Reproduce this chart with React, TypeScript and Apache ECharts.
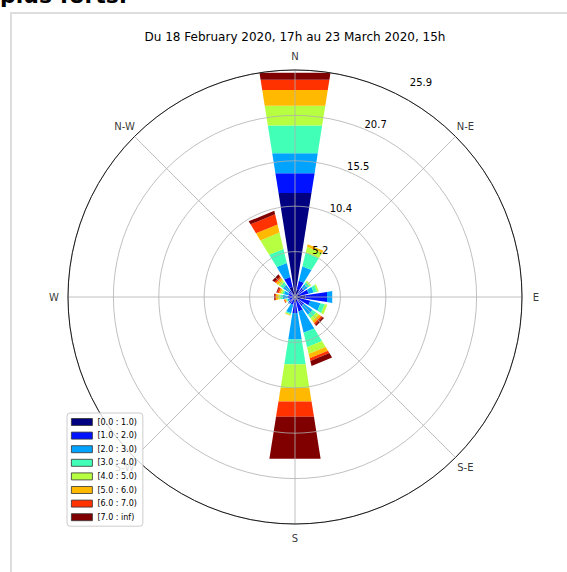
import React, { useEffect, useRef } from "react";
import * as echarts from "echarts";

const FONT = '"DejaVu Sans", "Liberation Sans", sans-serif';

const HEADING = "plus forts.";
const TITLE = "Du 18 February 2020, 17h au 23 March 2020, 15h";
const COMPASS_LABELS = ["N", "N-E", "E", "S-E", "S", "S-W", "W", "N-W"];

// 16 wind sectors, clockwise from north
const SECTORS = ["N", "NNE", "NE", "ENE", "E", "ESE", "SE", "SSE", "S", "SSW", "SW", "WSW", "W", "WNW", "NW", "NNW"];

// Speed classes and their jet colours
const SPEED_BINS = ["[0.0 : 1.0)", "[1.0 : 2.0)", "[2.0 : 3.0)", "[3.0 : 4.0)", "[4.0 : 5.0)", "[5.0 : 6.0)", "[6.0 : 7.0)", "[7.0 : inf)"];
const BIN_COLORS = ["#000080", "#0012ff", "#00a4ff", "#41ffb6", "#b6ff41", "#ffb900", "#ff3200", "#800000"];

// Frequency (%) of each speed class, per sector (same order as SECTORS)
const BIN_0_1 = [12.0, 0.9, 0.5, 0.6, 1.2, 0.6, 0.4, 0.5, 0.6, 0.3, 0.4, 0.3, 0.3, 0.3, 0.4, 1.2];
const BIN_1_2 = [2.3, 1.0, 0.8, 1.0, 2.5, 1.2, 0.9, 1.2, 1.25, 0.6, 0.5, 0.4, 0.5, 0.5, 0.5, 1.15];
const BIN_2_3 = [2.3, 1.7, 0.5, 0.6, 0.6, 1.2, 1.2, 2.5, 3.05, 1.0, 0.1, 0.2, 0.6, 0.5, 0.8, 1.65];
const BIN_3_4 = [3.2, 1.6, 0.3, 0.4, 0.0, 0.5, 0.5, 1.7, 2.86, 0.15, 0.0, 0.1, 0.3, 0.2, 0.4, 1.64];
const BIN_4_5 = [2.3, 0.7, 0.2, 0.2, 0.0, 0.3, 0.4, 0.8, 2.74, 0.1, 0.0, 0.1, 0.2, 0.2, 0.3, 1.93];
const BIN_5_6 = [1.8, 0.3, 0.0, 0.0, 0.0, 0.0, 0.3, 0.5, 1.56, 0.05, 0.0, 0.1, 0.3, 0.2, 0.3, 0.95];
const BIN_6_7 = [1.2, 0.0, 0.0, 0.0, 0.0, 0.0, 0.2, 0.3, 1.78, 0.0, 0.0, 0.1, 0.1, 0.2, 0.2, 1.2];
const BIN_7_INF = [0.8, 0.0, 0.0, 0.0, 0.0, 0.0, 0.2, 0.6, 4.84, 0.0, 0.0, 0.0, 0.1, 0.1, 0.3, 0.4];

// Radial scale: outer circle and five rings
const RADIUS_MAX = 25.9;
const RING_COUNT = 5;

const BINS = [BIN_0_1, BIN_1_2, BIN_2_3, BIN_3_4, BIN_4_5, BIN_5_6, BIN_6_7, BIN_7_INF];

const CENTER = [295, 297];
const PLOT_RADIUS = 227;
const COMPASS_RADIUS = 241;

function buildOption() {
  const step = 360 / SECTORS.length;
  const half = (step * 0.8) / 2;
  const base = SECTORS.map(() => 0);

  const series: any[] = BINS.map((vals, b) => {
    const data = vals.map((v, i) => {
      const r0 = base[i];
      base[i] = r0 + v;
      return [base[i], i * step, r0];
    });
    return {
      type: "custom",
      name: SPEED_BINS[b],
      coordinateSystem: "polar",
      polarIndex: 0,
      z: 2,
      itemStyle: { color: BIN_COLORS[b] },
      encode: { radius: 0, angle: 1 },
      data,
      renderItem: (_params: any, api: any) => {
        const r1 = api.value(0);
        const a = api.value(1);
        const r0 = api.value(2);
        if (!(r1 - r0 > 0)) return null;
        const points = [
          api.coord([r0, a - half]),
          api.coord([r0, a + half]),
          api.coord([r1, a + half]),
          api.coord([r1, a - half]),
        ];
        return {
          type: "polygon",
          shape: { points },
          style: { fill: BIN_COLORS[b], stroke: null },
        };
      },
    };
  });

  // compass point names, centred on their directions on an outer ring
  series.push({
    type: "scatter",
    coordinateSystem: "polar",
    polarIndex: 2,
    silent: true,
    z: 10,
    symbolSize: 8,
    itemStyle: { color: "rgba(255,255,255,0)" },
    data: COMPASS_LABELS.map((name, i) => ({ name, value: [RADIUS_MAX, i * 45] })),
    label: {
      show: true,
      position: "inside",
      formatter: "{b}",
      fontSize: 10,
      color: "#000",
      fontFamily: FONT,
    },
  });

  const ringStep = RADIUS_MAX / RING_COUNT;

  return {
    animation: false,
    backgroundColor: "transparent",
    textStyle: { fontFamily: FONT },
    title: {
      text: TITLE,
      left: 295,
      top: 31,
      textAlign: "center",
      padding: 0,
      textStyle: { fontSize: 12, fontWeight: "normal", color: "#000", fontFamily: FONT },
    },
    legend: {
      orient: "vertical",
      left: 67,
      top: 413,
      data: SPEED_BINS,
      icon: "rect",
      itemWidth: 21,
      itemHeight: 7,
      itemGap: 3.6,
      padding: [4, 6, 4, 4],
      backgroundColor: "rgba(255,255,255,0.8)",
      borderColor: "#cccccc",
      borderWidth: 1,
      borderRadius: 3,
      selectedMode: false,
      z: 20,
      itemStyle: { borderColor: "#333", borderWidth: 0.8 },
      textStyle: { fontSize: 8, color: "#000", fontFamily: FONT, lineHeight: 10 },
    },
    polar: [
      { center: CENTER, radius: PLOT_RADIUS },
      { center: CENTER, radius: PLOT_RADIUS },
      { center: CENTER, radius: COMPASS_RADIUS },
    ],
    angleAxis: [
      {
        polarIndex: 0,
        type: "value",
        min: 0,
        max: 360,
        interval: 45,
        startAngle: 90,
        clockwise: true,
        z: 10,
        axisLine: { show: true, lineStyle: { color: "#1a1a1a", width: 1 } },
        axisTick: { show: false },
        axisLabel: { show: false },
        splitLine: { show: true, lineStyle: { color: "#b0b0b0", width: 0.8 } },
      },
      {
        polarIndex: 1,
        type: "value",
        min: 0,
        max: 360,
        startAngle: 67.5,
        show: false,
      },
      {
        polarIndex: 2,
        type: "value",
        min: 0,
        max: 360,
        startAngle: 90,
        clockwise: true,
        show: false,
      },
    ],
    radiusAxis: [
      {
        polarIndex: 0,
        type: "value",
        min: 0,
        max: RADIUS_MAX,
        interval: ringStep,
        z: 10,
        axisLine: { show: false },
        axisTick: { show: false },
        axisLabel: { show: false },
        splitLine: { show: true, lineStyle: { color: "#b0b0b0", width: 0.8 } },
      },
      {
        polarIndex: 1,
        type: "value",
        min: 0,
        max: RADIUS_MAX,
        interval: ringStep,
        z: 10,
        axisLine: { show: false },
        axisTick: { show: false },
        splitLine: { show: false },
        axisLabel: {
          show: true,
          showMinLabel: false,
          showMaxLabel: true,
          margin: 0,
          align: "left",
          verticalAlign: "bottom",
          fontSize: 10,
          color: "#000",
          fontFamily: FONT,
          formatter: (v: number) => {
            const txt = v.toFixed(1);
            return Math.abs(v - RADIUS_MAX) < 1e-6 ? `{far|${txt}}` : txt;
          },
          rich: {
            far: { padding: [0, 0, 0, 28], fontSize: 10, color: "#000", fontFamily: FONT },
          },
        },
      },
      {
        polarIndex: 2,
        type: "value",
        min: 0,
        max: RADIUS_MAX,
        show: false,
      },
    ],
    series,
  };
}

export default function App() {
  const ref = useRef<HTMLDivElement>(null);

  useEffect(() => {
    if (!ref.current) return;
    const chart = echarts.init(ref.current, undefined, { renderer: "svg" });
    chart.setOption(buildOption() as any);
    return () => chart.dispose();
  }, []);

  return (
    <div
      style={{
        position: "absolute",
        left: 0,
        top: 0,
        width: 567,
        height: 572,
        overflow: "hidden",
        background: "#fff",
      }}
    >
      <div
        style={{
          position: "absolute",
          left: 0,
          top: -15,
          font: `bold 22px ${FONT}`,
          lineHeight: "22px",
          whiteSpace: "nowrap",
          color: "#000",
        }}
      >
        {HEADING}
      </div>
      <div
        style={{
          position: "absolute",
          left: 10,
          top: 12,
          width: 620,
          height: 620,
          borderLeft: "2px solid #dddddd",
          borderTop: "2px solid #dddddd",
        }}
      />
      <div ref={ref} style={{ position: "absolute", left: 0, top: 0, width: 567, height: 572 }} />
    </div>
  );
}
